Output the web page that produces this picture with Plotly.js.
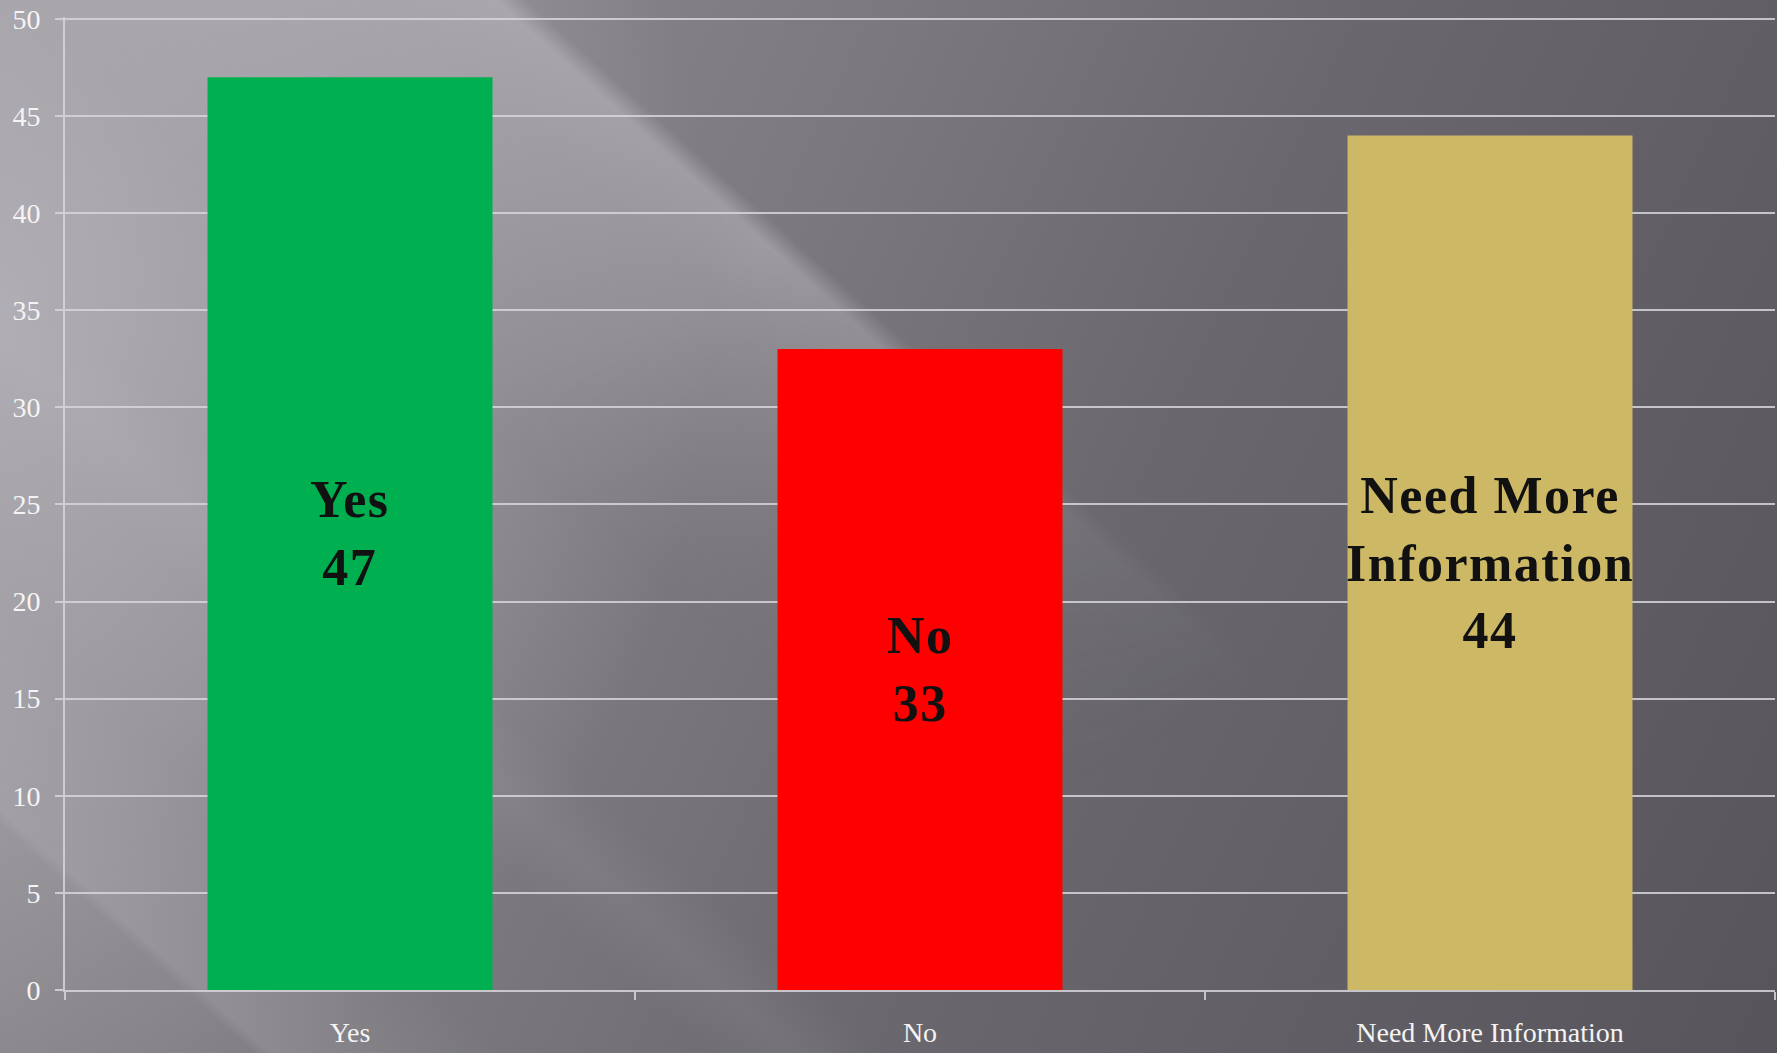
<!DOCTYPE html>
<html>
<head>
<meta charset="utf-8">
<script src="https://cdn.plot.ly/plotly-3.0.1.min.js"></script>
<style>
  html, body { margin: 0; padding: 0; }
  body { width: 1777px; height: 1053px; overflow: hidden; position: relative; }
  #bg {
    position: absolute; left: 0; top: 0; width: 1777px; height: 1053px; z-index: 0;
    background:
      linear-gradient(42deg, rgba(205,202,210,0) 8.6%, rgba(205,202,210,0.16) 9.2%, rgba(205,202,210,0) 17%),
      linear-gradient(42deg, rgba(205,202,210,0) 24%, rgba(205,202,210,0.08) 27%, rgba(205,202,210,0) 30%),
      radial-gradient(ellipse 40% 80% at 0% 28%, rgba(180,177,184,0.85) 0%, rgba(180,177,184,0.45) 50%, rgba(180,177,184,0) 100%),
      linear-gradient(115deg, #9a979d 0%, #858288 25%, #7b787e 40%, #6a686e 60%, #615f65 78%, #57555b 100%);
  }
  #streak {
    position: absolute; left: 0; top: 0; width: 1777px; height: 1053px; z-index: 1;
    background: linear-gradient(42deg, rgba(205,202,210,0) 40%, rgba(205,202,210,0.30) 53%, rgba(205,202,210,0.42) 56.5%, rgba(205,202,210,0) 57.6%);
    -webkit-mask-image: radial-gradient(ellipse 70% 90% at 22% 0%, #000 40%, rgba(0,0,0,0.25) 75%, transparent 100%);
    mask-image: radial-gradient(ellipse 70% 90% at 22% 0%, #000 40%, rgba(0,0,0,0.25) 75%, transparent 100%);
  }
  #plot { position: absolute; left: 0; top: 0; width: 1777px; height: 1053px; z-index: 2; }
  .annotation-text { letter-spacing: 1.5px; }
</style>
</head>
<body>
<div id="bg"></div>
<div id="streak"></div>
<div id="plot"></div>
<script>
const categories = ['Yes', 'No', 'Need More Information'];
const values = [47, 33, 44];
const barLabels = ['Yes', 'No', 'Need More<br>Information'];
const barColors = ['#00b050', '#ff0000', '#cdb866'];
const yTicks = [0, 5, 10, 15, 20, 25, 30, 35, 40, 45, 50];

const lineCol = 'rgba(215,214,218,0.85)';
const tickFont = { family: 'Liberation Serif, DejaVu Serif, serif', size: 28, color: '#f4f4f4' };

const trace = {
  type: 'bar',
  x: categories,
  y: values,
  marker: { color: barColors, line: { width: 0 } },
  hoverinfo: 'none'
};

const annotations = categories.map((c, i) => ({
  x: c,
  y: values[i] / 2,
  xref: 'x', yref: 'y',
  text: barLabels[i] + '<br>' + values[i],
  showarrow: false,
  xanchor: 'center', yanchor: 'middle',
  align: 'center',
  font: { family: 'Liberation Serif, DejaVu Serif, serif', size: 52, color: '#111111', weight: 'bold' }
}));

const layout = {
  width: 1777, height: 1053,
  margin: { l: 65, r: 2, t: 17, b: 63, pad: 0 },
  paper_bgcolor: 'rgba(0,0,0,0)',
  plot_bgcolor: 'rgba(0,0,0,0)',
  showlegend: false,
  bargap: 0.5,
  xaxis: {
    type: 'category',
    range: [-0.5, 2.5],
    tickson: 'boundaries',
    ticks: 'outside', ticklen: 8, tickwidth: 2, tickcolor: lineCol,
    showline: true, linecolor: lineCol, linewidth: 2,
    showgrid: false, zeroline: false,
    tickfont: tickFont,
    ticklabelstandoff: 16
  },
  yaxis: {
    range: [0, 50.1],
    tickmode: 'array', tickvals: yTicks, ticktext: yTicks.map(String),
    ticks: 'outside', ticklen: 8, tickwidth: 2, tickcolor: lineCol,
    showline: true, linecolor: lineCol, linewidth: 2,
    showgrid: true, gridcolor: lineCol, gridwidth: 2,
    zeroline: false,
    tickfont: tickFont,
    ticklabelstandoff: 9
  },
  annotations: annotations
};

Plotly.newPlot('plot', [trace], layout, { displayModeBar: false, staticPlot: true });
</script>
</body>
</html>
